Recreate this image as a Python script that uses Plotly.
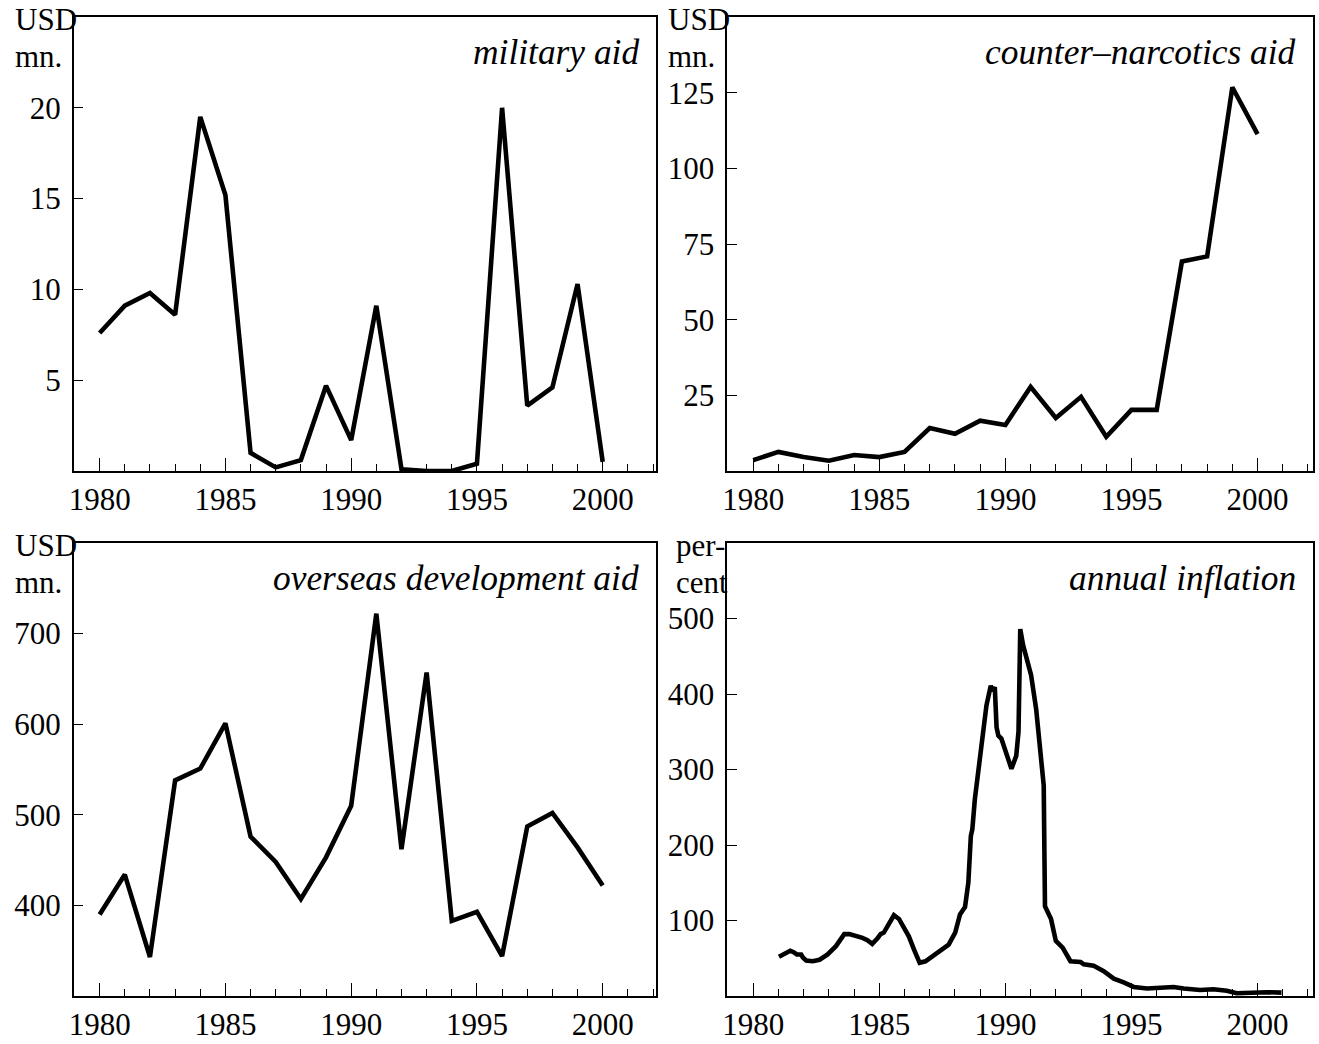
import plotly.graph_objects as go

# ---------------- data ----------------
years = list(range(1980, 2001))

military_aid = [7.6, 9.1, 9.8, 8.6, 19.5, 15.2, 1.0, 0.2, 0.6, 4.7, 1.7,
                9.1, 0.1, 0.0, 0.0, 0.4, 20.0, 3.6, 4.6, 10.3, 0.5]

counter_narcotics_aid = [3.6, 6.3, 4.6, 3.4, 5.3, 4.6, 6.3, 14.2, 12.3, 16.6, 15.2,
                         27.8, 17.5, 24.5, 11.3, 20.2, 20.2, 69.2, 70.9, 126.8, 111.3]

overseas_dev_aid = [390, 434, 343, 538, 551, 601, 476, 448, 407, 453, 510,
                    722, 462, 657, 383, 393, 344, 487, 502, 464, 422]

infl_dates = [1981.02, 1981.25, 1981.47, 1981.60, 1981.73, 1981.90, 1981.97, 1982.10,
              1982.36, 1982.63, 1982.95, 1983.28, 1983.61, 1983.81, 1984.07, 1984.33,
              1984.53, 1984.72, 1984.92, 1985.05, 1985.18, 1985.38, 1985.58, 1985.78,
              1985.98, 1986.17, 1986.37, 1986.60, 1986.83, 1987.09, 1987.42, 1987.75,
              1988.01, 1988.20, 1988.40, 1988.53, 1988.63, 1988.69, 1988.79, 1989.06,
              1989.25, 1989.42, 1989.48, 1989.58, 1989.65, 1989.72, 1989.84, 1990.24,
              1990.43, 1990.52, 1990.59, 1990.70, 1990.83, 1991.02, 1991.22, 1991.42,
              1991.52, 1991.57, 1991.70, 1991.81, 1992.00, 1992.27, 1992.58, 1992.98,
              1993.11, 1993.50, 1993.90, 1994.30, 1994.69, 1995.09, 1995.62, 1996.14,
              1996.67, 1997.07, 1997.72, 1998.25, 1998.78, 1999.17, 1999.70, 2000.36,
              2000.95]
infl_values = [52, 56, 60, 58, 55, 55, 51, 47,
               46, 48, 55, 66, 82, 82, 80, 77,
               74, 69, 76, 82, 84, 97, 107, 102,
               91, 79, 62, 44, 46, 52, 60, 68,
               84, 108, 118, 150, 212, 221, 261, 341,
               385, 411, 404, 409, 356, 345, 341, 301,
               318, 350, 486, 465, 447, 425, 380, 318,
               279, 119, 108, 102, 73, 64, 46, 45,
               42, 40, 33, 23, 18, 12, 10, 11,
               12, 10, 8, 9, 7, 3.6, 4.5, 5,
               4.5]

panel_titles = ["military aid", "counter–narcotics aid",
                "overseas development aid", "annual inflation"]
unit_line1 = ["USD", "USD", "USD", "per-"]
unit_line2 = ["mn.", "mn.", "mn.", "cent"]

y_ticks = [[5, 10, 15, 20], [25, 50, 75, 100, 125],
           [400, 500, 600, 700], [100, 200, 300, 400, 500]]
y_ranges = [[0, 25], [0, 150], [300, 800], [0, 600]]
x_ticks = [1980, 1985, 1990, 1995, 2000]

# ---------------- layout geometry ----------------
W, H = 1319, 1044
def px(x):
    return x / W
def py(y):
    return 1 - y / H

panels = [  # left, right, top, bottom in pixels
    (69, 653, 17, 471),
    (725, 1313, 17, 471),
    (69, 653, 543, 996),
    (725, 1313, 543, 996),
]

FONT = "Liberation Serif"
FS = 31

fig = go.Figure()
series = [(years, military_aid), (years, counter_narcotics_aid),
          (years, overseas_dev_aid), (infl_dates, infl_values)]

layout = dict(
    width=W, height=H, margin=dict(l=0, r=0, t=0, b=0),
    paper_bgcolor="white", plot_bgcolor="white", showlegend=False,
    font=dict(family=FONT, size=FS, color="black"),
)
annotations = []
for i, ((xs, ys), (l, r, t, b)) in enumerate(zip(series, panels)):
    n = "" if i == 0 else str(i + 1)
    fig.add_trace(go.Scatter(x=xs, y=ys, mode="lines",
                             line=dict(color="black", width=4.6),
                             xaxis="x" + n, yaxis="y" + n))
    layout["xaxis" + n] = dict(
        domain=[px(l), px(r)], anchor="y" + n,
        range=[1978.97, 2002.1] if i % 2 == 0 else [1978.97, 2002.2],
        tickmode="array", tickvals=x_ticks, ticks="inside", ticklen=13,
        tickwidth=1.3, tickcolor="black",
        minor=dict(dtick=1, tick0=1980, ticks="inside", ticklen=7,
                   tickwidth=1.3, tickcolor="black"),
        showline=True, linecolor="black", linewidth=1.5, mirror=True,
        showgrid=False, zeroline=False,
        tickfont=dict(family=FONT, size=FS, color="black"),
        fixedrange=True,
    )
    layout["yaxis" + n] = dict(
        domain=[py(b), py(t)], anchor="x" + n,
        range=y_ranges[i], tickmode="array", tickvals=y_ticks[i],
        ticks="inside", ticklen=10, tickwidth=1.3, tickcolor="black",
        showline=True, linecolor="black", linewidth=1.5, mirror=True,
        showgrid=False, zeroline=False, ticklabelstandoff=5,
        tickfont=dict(family=FONT, size=FS, color="black"),
        fixedrange=True,
    )
    # panel title (italic, top right inside frame)
    annotations.append(dict(
        text="<i>" + panel_titles[i] + "</i>", xref="paper", yref="paper",
        x=px(r - 15), y=py(t + 35), xanchor="right", yanchor="middle",
        showarrow=False, font=dict(family=FONT, size=35.4, color="black")))
    # unit label (top left, overlapping frame corner), two lines
    ux = 8 if i % 2 == 0 else (664 if i == 1 else 672)
    annotations.append(dict(
        text=unit_line1[i], xref="paper", yref="paper",
        x=px(ux), y=py(t + 2), xanchor="left", yanchor="middle",
        showarrow=False, font=dict(family=FONT, size=31, color="black")))
    annotations.append(dict(
        text=unit_line2[i], xref="paper", yref="paper",
        x=px(ux), y=py(t + 39), xanchor="left", yanchor="middle",
        showarrow=False, font=dict(family=FONT, size=31, color="black")))

layout["annotations"] = annotations
fig.update_layout(**layout)
fig.write_html("out.html", config={"displayModeBar": False},
               post_script="document.body.style.margin='0';document.body.style.overflow='hidden';")
